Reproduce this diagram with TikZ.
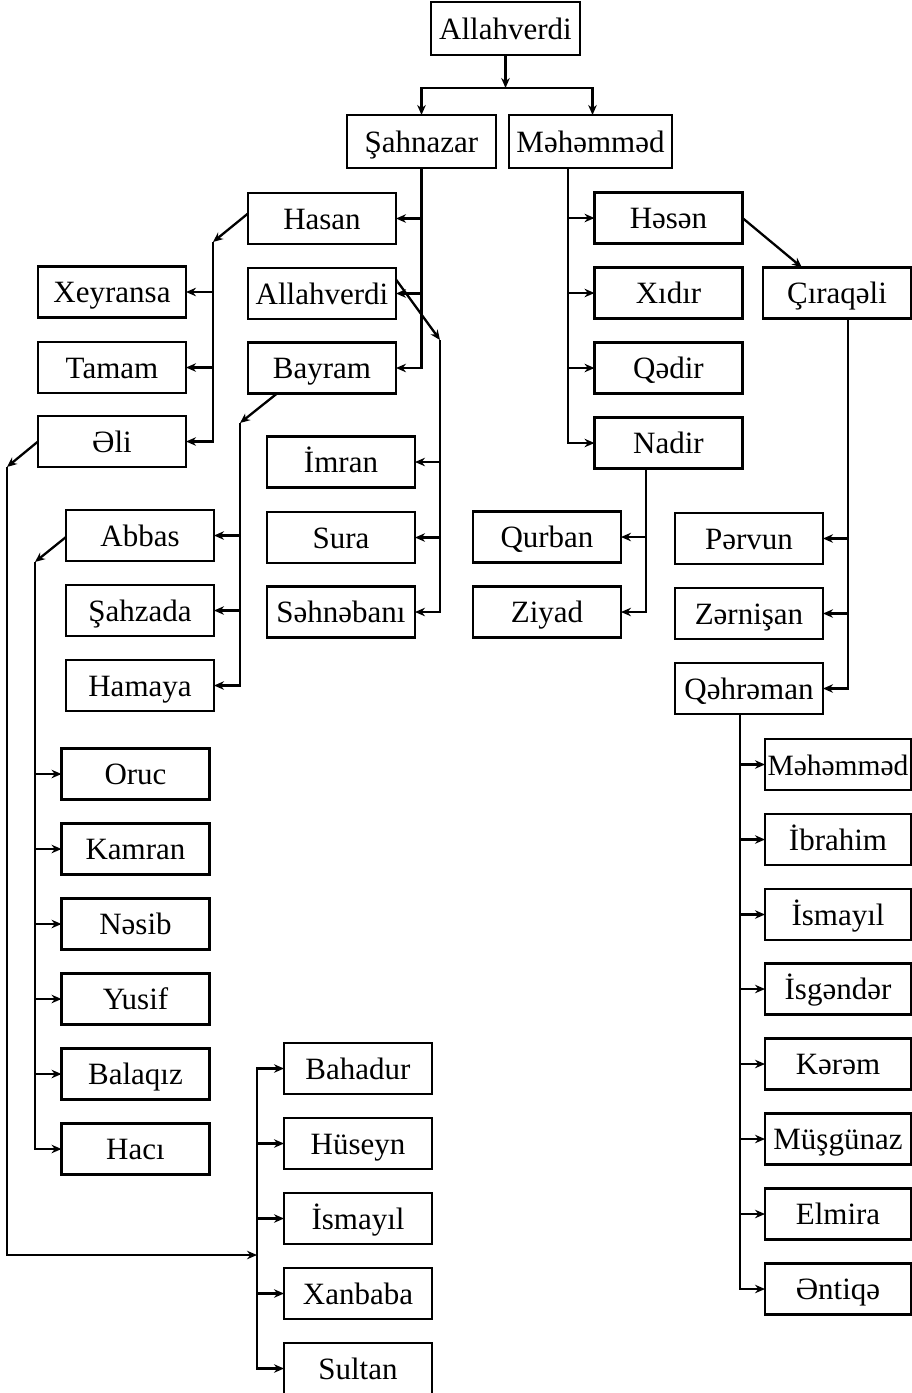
\documentclass[tikz,border=0pt]{standalone}
\usepackage{fontspec}
\setmainfont{Liberation Serif}
\usetikzlibrary{arrows.meta}
\begin{document}
\begin{tikzpicture}[x=1pt,y=-1pt,
  bx/.style={draw,line width=2.5pt,minimum width=148pt,minimum height=51pt,inner sep=0pt,outer sep=0pt,text height=27pt,text depth=6pt,font=\fontsize{31}{36}\selectfont},
  arr/.style={line width=2.3pt,-{Stealth[length=10pt,width=8.5pt]}}]
\useasboundingbox (0,0) rectangle (912,1393);
% top level
\node[bx,minimum width=149pt,minimum height=53pt] (A0) at (505.5,28.5) {Allahverdi};
\node[bx,minimum width=149pt,minimum height=53pt] (S) at (421.5,141.5) {Şahnazar};
\node[bx,minimum width=163pt,minimum height=53pt] (M) at (590.5,141.5) {Məhəmməd};
% Sahnazar children
\node[bx] (H1) at (322,218.5) {Hasan};
\node[bx] (A1) at (322,293.5) {Allahverdi};
\node[bx] (B1) at (322,368) {Bayram};
% Hasan children
\node[bx] (Xe) at (112,292) {Xeyransa};
\node[bx] (Ta) at (112,367.5) {Tamam};
\node[bx] (El) at (112,441.5) {Əli};
% Allahverdi children
\node[bx] (Im) at (341,462) {İmran};
\node[bx] (Su) at (341,537.5) {Sura};
\node[bx] (Se) at (341,612) {Səhnəbanı};
% Bayram children
\node[bx] (Ab) at (140,535.5) {Abbas};
\node[bx] (Sz) at (140,610.5) {Şahzada};
\node[bx] (Hm) at (140,685.5) {Hamaya};
% Abbas children
\node[bx] (Or) at (135.5,774) {Oruc};
\node[bx] (Ka) at (135.5,849) {Kamran};
\node[bx] (Ns) at (135.5,924) {Nəsib};
\node[bx] (Yu) at (135.5,999) {Yusif};
\node[bx] (Bq) at (135.5,1074) {Balaqız};
\node[bx] (Hc) at (135.5,1149) {Hacı};
% Eli children
\node[bx] (Bd) at (358,1068.5) {Bahadur};
\node[bx] (Hu) at (358,1143.5) {Hüseyn};
\node[bx] (Is1) at (358,1218.5) {İsmayıl};
\node[bx] (Xb) at (358,1293.5) {Xanbaba};
\node[bx] (Sl) at (358,1368.5) {Sultan};
% Mehemmed children
\node[bx] (Hs) at (668.5,218) {Həsən};
\node[bx] (Xi) at (668.5,293) {Xıdır};
\node[bx] (Qd) at (668.5,368) {Qədir};
\node[bx] (Nd) at (668.5,443) {Nadir};
\node[bx] (Ci) at (837,293) {Çıraqəli};
% Nadir children
\node[bx] (Qu) at (547,537) {Qurban};
\node[bx] (Zi) at (547,612) {Ziyad};
% Ciraqeli children
\node[bx] (Pv) at (749,538.5) {Pərvun};
\node[bx] (Zr) at (749,613.5) {Zərnişan};
\node[bx] (Qh) at (749,688.5) {Qəhrəman};
% Qehreman children
\node[bx,minimum width=146pt,font=\fontsize{29.5}{34}\selectfont] (Mh2) at (838,764.5) {Məhəmməd};
\node[bx,minimum width=146pt] (Ib) at (838,839.5) {İbrahim};
\node[bx,minimum width=146pt] (Is2) at (838,914.5) {İsmayıl};
\node[bx,minimum width=146pt] (Ig) at (838,989) {İsgəndər};
\node[bx,minimum width=146pt] (Kr) at (838,1064) {Kərəm};
\node[bx,minimum width=146pt] (Mg) at (838,1139) {Müşgünaz};
\node[bx,minimum width=146pt] (Em) at (838,1214) {Elmira};
\node[bx,minimum width=146pt] (An) at (838,1289) {Əntiqə};
% junction coordinates
\coordinate (j0) at (505.5,88);
\coordinate (jh) at (213,242);
\coordinate (ja) at (440,340);
\coordinate (jb) at (240,423);
\coordinate (je) at (7,467);
\coordinate (jq) at (257,1255);
\coordinate (jab) at (35,562);
% connectors
\draw[arr] (A0.south) -- (j0);
\draw[arr] (j0) -| (S.north);
\draw[arr] (j0) -| ([xshift=2pt]M.north);
\foreach \c in {H1,A1,B1} \draw[arr] (S.south) |- (\c.east);
\draw[arr] ([yshift=5pt]H1.west) -- (jh);
\foreach \c in {Xe,Ta,El} \draw[arr] (jh) |- (\c.east);
\draw[arr] ([yshift=14pt]A1.east) -- (ja);
\foreach \c in {Im,Su,Se} \draw[arr] (ja) |- (\c.east);
\draw[arr] ([xshift=-45pt]B1.south) -- (jb);
\foreach \c in {Ab,Sz,Hm} \draw[arr] (jb) |- (\c.east);
\draw[arr] (El.west) -- (je);
\draw[arr] (je) |- (jq);
\foreach \c in {Bd,Hu,Is1,Xb,Sl} \draw[arr] (jq) |- (\c.west);
\draw[arr] ([yshift=-1.5pt]Ab.west) -- (jab);
\foreach \c in {Or,Ka,Ns,Yu,Bq,Hc} \draw[arr] (jab) |- (\c.west);
\foreach \c in {Hs,Xi,Qd,Nd} \draw[arr] ([xshift=-22.5pt]M.south) |- (\c.west);
\draw[arr] (Hs.east) -- ([xshift=-35pt]Ci.north);
\foreach \c in {Pv,Zr,Qh} \draw[arr] ([xshift=11pt]Ci.south) |- (\c.east);
\foreach \c in {Qu,Zi} \draw[arr] ([xshift=-22.5pt]Nd.south) |- (\c.east);
\foreach \c in {Mh2,Ib,Is2,Ig,Kr,Mg,Em,An} \draw[arr] ([xshift=-9pt]Qh.south) |- (\c.west);
\end{tikzpicture}
\end{document}
